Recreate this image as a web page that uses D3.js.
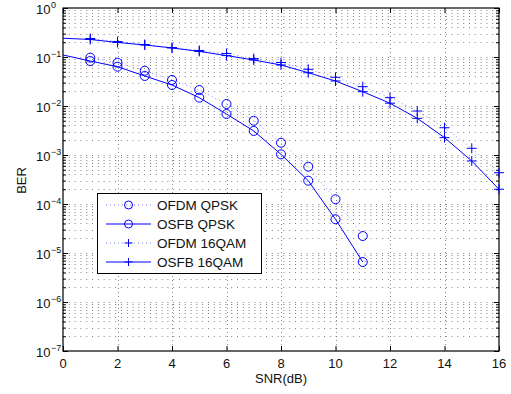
<!DOCTYPE html>
<html>
<head>
<meta charset="utf-8">
<script src="https://cdn.jsdelivr.net/npm/d3@7"></script>
<style>
  html, body { margin: 0; padding: 0; background: #fff; }
  svg { display: block; font-family: "Liberation Sans", Arial, Helvetica, sans-serif; }
</style>
</head>
<body>
<svg id="chart" width="511" height="394"></svg>
<script>
// ---- data ----
const snrQpsk = [1, 2, 3, 4, 5, 6, 7, 8, 9, 10, 11];
const ofdmQpsk = [0.097, 0.0765, 0.0525, 0.034, 0.0212, 0.011, 0.0050, 0.00178, 5.77e-4, 1.25e-4, 2.22e-5];
const snrOsfbQpsk = [0, 1, 2, 3, 4, 5, 6, 7, 8, 9, 10, 11];
const osfbQpsk = [0.11, 0.0828, 0.0634, 0.041, 0.0268, 0.0148, 0.00687, 0.0031, 0.00103, 2.99e-4, 4.88e-5, 6.55e-6];
const snr16 = [1, 2, 3, 4, 5, 6, 7, 8, 9, 10, 11, 12, 13, 14, 15, 16];
const ofdm16 = [0.239, 0.207, 0.18, 0.156, 0.136, 0.118, 0.093, 0.0772, 0.0561, 0.0385, 0.0248, 0.0148, 0.0079, 0.0036, 0.00137, 4.35e-4];
const snrOsfb16 = [0, 1, 2, 3, 4, 5, 6, 7, 8, 9, 10, 11, 12, 13, 14, 15, 16];
const osfb16 = [0.241, 0.228, 0.198, 0.176, 0.153, 0.13, 0.107, 0.0868, 0.0687, 0.0478, 0.0324, 0.0196, 0.0114, 0.0056, 0.00226, 7.55e-4, 2.0e-4];

const xTicks = [0, 2, 4, 6, 8, 10, 12, 14, 16];
const yExponents = [0, -1, -2, -3, -4, -5, -6, -7];
const legendLabels = ["OFDM QPSK", "OSFB QPSK", "OFDM 16QAM", "OSFB 16QAM"];
const xLabel = "SNR(dB)";
const yLabel = "BER";

// ---- layout ----
const L = 63, R = 499, T = 8, B = 351;
const svg = d3.select("#chart");
const x = d3.scaleLinear().domain([0, 16]).range([L, R]);
const y = d3.scaleLog().domain([1e-7, 1]).range([B, T]);
const blue = "#0000ff";

// minor y values
const yMinor = [];
for (let e = -7; e < 0; e++) for (let m = 2; m <= 9; m++) yMinor.push(m * Math.pow(10, e));
const yMajor = yExponents.map(e => Math.pow(10, e));

// ---- grid ----
const grid = svg.append("g");
grid.selectAll("line.hg").data(yMinor.concat(yMajor.filter(v => v > 1e-7 && v < 1)))
  .enter().append("line")
  .attr("x1", L).attr("x2", R)
  .attr("y1", d => Math.round(y(d)) + 0.5).attr("y2", d => Math.round(y(d)) + 0.5)
  .attr("stroke", "#000").attr("stroke-opacity", 0.48)
  .attr("stroke-width", 1).attr("stroke-dasharray", "1,4.8");
grid.selectAll("line.vg").data(xTicks.filter(v => v > 0 && v < 16))
  .enter().append("line")
  .attr("x1", d => Math.round(x(d)) + 0.5).attr("x2", d => Math.round(x(d)) + 0.5)
  .attr("y1", T).attr("y2", B)
  .attr("stroke", "#000").attr("stroke-opacity", 0.45)
  .attr("stroke-width", 1).attr("stroke-dasharray", "1,3");

// ---- axes (ticks inside) ----
const axB = svg.append("g").attr("transform", `translate(0,${B})`)
  .call(d3.axisBottom(x).tickValues(xTicks).tickSize(-5).tickFormat(""));
const axT = svg.append("g").attr("transform", `translate(0,${T})`)
  .call(d3.axisTop(x).tickValues(xTicks).tickSize(-5).tickFormat(""));
const axL = svg.append("g").attr("transform", `translate(${L},0)`)
  .call(d3.axisLeft(y).tickValues(yMajor).tickSize(-5).tickFormat(""));
const axR = svg.append("g").attr("transform", `translate(${R},0)`)
  .call(d3.axisRight(y).tickValues(yMajor).tickSize(-5).tickFormat(""));
const axLm = svg.append("g").attr("transform", `translate(${L},0)`)
  .call(d3.axisLeft(y).tickValues(yMinor).tickSize(-3).tickFormat(""));
const axRm = svg.append("g").attr("transform", `translate(${R},0)`)
  .call(d3.axisRight(y).tickValues(yMinor).tickSize(-3).tickFormat(""));
[axB, axT, axL, axR, axLm, axRm].forEach(g => {
  g.selectAll(".domain").remove();
  g.selectAll("line").attr("stroke", "#000").attr("stroke-width", 1);
});
svg.append("rect").attr("x", L).attr("y", T).attr("width", R - L).attr("height", B - T)
  .attr("fill", "none").attr("stroke", "#000").attr("stroke-width", 1.2);

// tick labels
svg.append("g").selectAll("text").data(xTicks).enter().append("text")
  .attr("x", d => x(d)).attr("y", 368)
  .attr("text-anchor", "middle").attr("font-size", 13).attr("fill", "#111")
  .text(d => d);

const yl = svg.append("g").selectAll("text").data(yExponents).enter().append("text")
  .attr("x", 36).attr("y", d => y(Math.pow(10, d)) + 5.5)
  .attr("font-size", 13).attr("fill", "#111");
yl.append("tspan").text("10");
yl.append("tspan").attr("font-size", 9).attr("dy", -6).attr("dx", 0.5)
  .text(d => d === 0 ? "0" : "\u2212" + Math.abs(d));

// axis titles
svg.append("text").attr("x", (L + R) / 2).attr("y", 383)
  .attr("text-anchor", "middle").attr("font-size", 13).attr("fill", "#111").text(xLabel);
svg.append("text").attr("transform", `translate(26,${(T + B) / 2 + 1}) rotate(-90)`)
  .attr("text-anchor", "middle").attr("font-size", 13).attr("fill", "#111").text(yLabel);

// ---- series ----
svg.append("clipPath").attr("id", "clip").append("rect")
  .attr("x", L).attr("y", T).attr("width", R - L).attr("height", B - T);
const plot = svg.append("g");
const lineGen = d3.line().x(d => x(d[0])).y(d => y(d[1]));

function zip(a, b) { return a.map((v, i) => [v, b[i]]); }

const series = [
  { pts: zip(snrQpsk, ofdmQpsk), dotted: true, marker: "o" },
  { pts: zip(snrOsfbQpsk, osfbQpsk), dotted: false, marker: "o" },
  { pts: zip(snr16, ofdm16), dotted: true, marker: "+" },
  { pts: zip(snrOsfb16, osfb16), dotted: false, marker: "+" }
];

function drawMarker(g, type, cx, cy, size) {
  if (type === "o") {
    g.append("circle").attr("cx", cx).attr("cy", cy).attr("r", size)
      .attr("fill", "none").attr("stroke", blue).attr("stroke-width", 1);
  } else {
    g.append("line").attr("x1", cx - size).attr("x2", cx + size).attr("y1", cy).attr("y2", cy)
      .attr("stroke", blue).attr("stroke-width", 1);
    g.append("line").attr("x1", cx).attr("x2", cx).attr("y1", cy - size).attr("y2", cy + size)
      .attr("stroke", blue).attr("stroke-width", 1);
  }
}

series.forEach(s => {
  plot.append("path").datum(s.pts).attr("d", lineGen)
    .attr("clip-path", "url(#clip)")
    .attr("fill", "none").attr("stroke", blue)
    .attr("stroke-width", 1)
    .attr("stroke-opacity", s.dotted ? 0.45 : 1)
    .attr("stroke-dasharray", s.dotted ? "1,3" : null);
  const mg = plot.append("g");
  s.pts.filter(p => p[0] >= 1).forEach(p => drawMarker(mg, s.marker, x(p[0]), y(p[1]), s.marker === "o" ? 4.5 : 5));
});

// ---- legend ----
const lg = svg.append("g");
lg.append("rect").attr("x", 97.5).attr("y", 193.5).attr("width", 164).attr("height", 80)
  .attr("fill", "#fff").attr("stroke", "#000").attr("stroke-width", 1);
legendLabels.forEach((lab, i) => {
  const s = series[i];
  const cy = 205 + i * 19;
  lg.append("line").attr("x1", 106).attr("x2", 151).attr("y1", cy).attr("y2", cy)
    .attr("stroke", blue).attr("stroke-width", 1)
    .attr("stroke-opacity", s.dotted ? 0.45 : 1)
    .attr("stroke-dasharray", s.dotted ? "1,3" : null);
  drawMarker(lg, s.marker, 128.5, cy, 4);
  lg.append("text").attr("x", 157).attr("y", cy + 5)
    .attr("font-size", 13.5).attr("fill", "#111").text(lab);
});
</script>
</body>
</html>
